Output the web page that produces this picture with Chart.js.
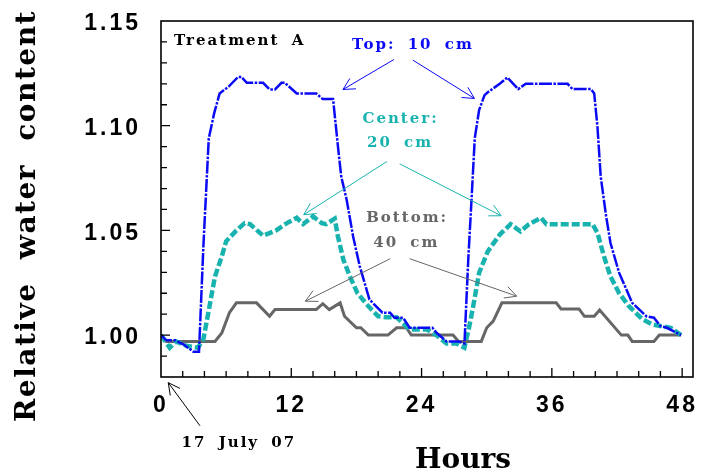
<!DOCTYPE html>
<html lang="en">
<head>
<meta charset="UTF-8">
<title>Relative water content - Treatment A</title>
<script src="https://cdn.jsdelivr.net/npm/chart.js"></script>
<style>
  html, body { margin: 0; padding: 0; background: #fff; }
</style>
</head>
<body>
<canvas id="waterChart" width="701" height="475"></canvas>
<script>
// Hours since the start of the run (17 July 07) and relative water content per depth
const topHours = [0, 0.5, 1.3, 2.1, 3.0, 3.5, 3.9, 4.4, 4.9, 5.4, 6.3, 7.1, 7.4, 7.9, 9.4, 10.0, 10.5, 11.1, 11.4, 12.5,
  14.3, 14.9, 15.85, 16.3, 16.6, 17.1, 17.7, 18.3, 19.2, 20.4, 21.1, 21.5, 22.3, 22.9, 25.0, 25.4, 26.3, 27.4, 27.95, 28.3,
  28.6, 28.9, 29.3, 29.8, 30.1, 31.2, 31.9, 32.9, 33.6, 37.45, 37.9, 39.6, 39.9, 40.2, 40.5, 41.0, 41.4, 42.2, 43.4, 44.7,
  45.4, 46.0, 46.6, 47.9];
const topValues = [1.000, 0.9975, 0.9975, 0.9955, 0.992, 0.992, 1.042, 1.094, 1.106, 1.1154, 1.119, 1.1233, 1.1233, 1.1205, 1.1205, 1.1173, 1.1173, 1.1205, 1.1205, 1.1154,
  1.1154, 1.1127, 1.1127, 1.090, 1.0757, 1.0646, 1.047, 1.033, 1.017, 1.0107, 1.0107, 1.0083, 1.0083, 1.0035, 1.0035, 1.001, 0.997, 0.997, 0.996, 1.036,
  1.0646, 1.094, 1.1075, 1.1146, 1.116, 1.120, 1.123, 1.1175, 1.120, 1.120, 1.1175, 1.1175, 1.1154, 1.0995, 1.0757, 1.0567, 1.044, 1.0297, 1.0154, 1.009,
  1.0083, 1.0043, 1.0035, 1.000];

const centerHours = [0, 0.8, 1.4, 2.4, 3.4, 3.9, 4.3, 4.97, 5.6, 6.0, 6.95, 7.7, 8.2, 9.4, 10.6, 11.6, 12.5, 13.1, 14.0, 14.8,
  15.2, 16.0, 16.3, 16.8, 17.4, 18.1, 19.1, 20.0, 20.75, 21.7, 22.9, 24.5, 25.35, 26.3, 27.2, 27.95, 28.4, 28.7, 29.3, 30.1,
  31.2, 32.2, 33.1, 33.9, 35.0, 35.5, 39.75, 40.2, 40.8, 41.4, 42.2, 43.1, 44.35, 45.3, 46.95, 47.9];
const centerValues = [1.000, 0.994, 0.997, 0.9948, 0.994, 0.998, 1.009, 1.028, 1.0376, 1.0448, 1.050, 1.0535, 1.053, 1.0475, 1.050, 1.0535, 1.056, 1.053, 1.0567, 1.0535,
  1.053, 1.0556, 1.047, 1.036, 1.028, 1.020, 1.0138, 1.009, 1.0085, 1.0085, 1.0027, 1.0027, 1.000, 0.996, 0.996, 0.994, 1.0043, 1.0122, 1.0297, 1.040,
  1.048, 1.053, 1.0495, 1.053, 1.056, 1.053, 1.053, 1.0488, 1.0376, 1.028, 1.020, 1.0138, 1.0075, 1.005, 1.0035, 1.000];

const bottomHours = [0, 0.5, 4.97, 5.6, 6.3, 6.95, 8.8, 10.0, 10.5, 14.3, 14.9, 15.5, 16.5, 16.9, 18.0, 18.4, 19.1, 20.9, 21.7, 22.6,
  23.05, 26.9, 27.4, 29.5, 30.0, 30.6, 31.4, 36.4, 36.85, 38.5, 39.0, 39.9, 40.4, 42.4, 43.0, 43.4, 45.4, 45.9, 47.9];
const bottomValues = [1.000, 0.997, 0.997, 1.001, 1.0107, 1.0154, 1.0154, 1.009, 1.0122, 1.0122, 1.015, 1.0122, 1.0154, 1.009, 1.0035, 1.0035, 1.000, 1.000, 1.0035, 1.0035,
  1.000, 1.000, 0.997, 0.997, 1.0035, 1.0067, 1.0154, 1.0154, 1.0125, 1.0125, 1.009, 1.009, 1.012, 1.000, 1.000, 0.997, 0.997, 1.000, 1.000];

const xTickLabels = [0, 12, 24, 36, 48];
const yTickLabels = [1.00, 1.05, 1.10, 1.15];

const blue = '#0a0af5';
const teal = '#19b3af';
const grey = '#666666';

// text and arrows placed in data units
const notes = [
  { text: 'Treatment A', at: [1.2, 1.1384], color: '#000', align: 'left' },
  { text: 'Top: 10 cm', at: [23.2, 1.1368], color: blue },
  { text: 'Center:', at: [22.07, 1.1014], color: teal },
  { text: '20 cm', at: [22.02, 1.090], color: teal },
  { text: 'Bottom:', at: [22.67, 1.054], color: grey },
  { text: '40 cm', at: [22.59, 1.0421], color: grey },
  { text: '17 July 07', at: [7.17, 0.9464], color: '#000' }
];
const arrows = [
  { from: [21.45, 1.1316], to: [16.76, 1.1173], color: blue },
  { from: [23.2, 1.1313], to: [28.87, 1.113], color: blue },
  { from: [20.81, 1.0829], to: [13.15, 1.0575], color: teal },
  { from: [21.98, 1.0818], to: [31.33, 1.057], color: teal },
  { from: [21.12, 1.0365], to: [13.3, 1.0162], color: grey },
  { from: [22.9, 1.0365], to: [32.76, 1.0186], color: grey },
  { from: [3.59, 0.9567], to: [0.67, 0.9773], color: '#000' }
];

function points(hours, values) {
  return hours.map((h, i) => ({ x: h, y: values[i] }));
}

// spaced-out tick labels, reset before the lines are drawn
const tickSpacing = {
  id: 'tickSpacing',
  beforeDraw(chart) { chart.ctx.letterSpacing = '3px'; },
  beforeDatasetsDraw(chart) { chart.ctx.letterSpacing = '0px'; }
};

// box around the plot plus inward tick marks
const frameAndTicks = {
  id: 'frameAndTicks',
  afterDatasetsDraw(chart) {
    const { ctx, chartArea: a, scales: { x, y } } = chart;
    ctx.save();
    ctx.strokeStyle = '#000';
    ctx.lineWidth = 1.3;
    ctx.beginPath();
    for (let h = 2; h <= 48; h += 2) {
      const px = x.getPixelForValue(h);
      const len = h % 12 === 0 ? 9 : 6;
      ctx.moveTo(px, a.bottom);
      ctx.lineTo(px, a.bottom - len);
    }
    for (let k = 99; k < 115; k++) {
      const py = y.getPixelForValue(k / 100);
      const len = k % 5 === 0 ? 9 : 6;
      ctx.moveTo(a.left, py);
      ctx.lineTo(a.left + len, py);
    }
    ctx.stroke();
    ctx.lineWidth = 1.6;
    ctx.strokeRect(a.left, a.top, a.right - a.left, a.bottom - a.top);
    ctx.restore();
  }
};

function drawArrow(ctx, x1, y1, x2, y2) {
  const ang = Math.atan2(y1 - y2, x1 - x2);
  const head = 13, spread = 0.48;
  ctx.beginPath();
  ctx.moveTo(x1, y1);
  ctx.lineTo(x2, y2);
  ctx.moveTo(x2 + head * Math.cos(ang - spread), y2 + head * Math.sin(ang - spread));
  ctx.lineTo(x2, y2);
  ctx.lineTo(x2 + head * Math.cos(ang + spread), y2 + head * Math.sin(ang + spread));
  ctx.stroke();
}

const annotations = {
  id: 'annotations',
  afterDraw(chart) {
    const { ctx, scales: { x, y } } = chart;
    ctx.save();
    ctx.lineWidth = 1;
    arrows.forEach(a => {
      ctx.strokeStyle = a.color;
      drawArrow(ctx, x.getPixelForValue(a.from[0]), y.getPixelForValue(a.from[1]),
        x.getPixelForValue(a.to[0]), y.getPixelForValue(a.to[1]));
    });
    ctx.font = 'bold 15px "DejaVu Serif"';
    ctx.letterSpacing = '2px';
    ctx.wordSpacing = '5px';
    ctx.textBaseline = 'alphabetic';
    notes.forEach(n => {
      ctx.fillStyle = n.color;
      ctx.textAlign = n.align || 'center';
      ctx.fillText(n.text, x.getPixelForValue(n.at[0]), y.getPixelForValue(n.at[1]));
    });

    // axis titles
    ctx.fillStyle = '#000';
    ctx.textAlign = 'center';
    ctx.font = 'bold 28px "DejaVu Serif"';
    ctx.letterSpacing = '1.5px';
    ctx.wordSpacing = '12px';
    ctx.save();
    ctx.translate(35, 216);
    ctx.rotate(-Math.PI / 2);
    ctx.fillText('Relative water content', 0, 0);
    ctx.restore();
    ctx.letterSpacing = '0px';
    ctx.wordSpacing = '0px';
    ctx.fillText('Hours', 463, 468);
    ctx.restore();
  }
};

const tickFont = { family: '"Liberation Sans", Arial, sans-serif', weight: 'bold', size: 23 };

new Chart(document.getElementById('waterChart').getContext('2d'), {
  type: 'line',
  data: {
    datasets: [
      {
        label: 'Top: 10 cm',
        data: points(topHours, topValues),
        borderColor: blue,
        borderWidth: 2.5,
        borderDash: [13, 1.5, 2.5, 1.5]
      },
      {
        label: 'Center: 20 cm',
        data: points(centerHours, centerValues),
        borderColor: teal,
        borderWidth: 4.5,
        borderDash: [8, 3]
      },
      {
        label: 'Bottom: 40 cm',
        data: points(bottomHours, bottomValues),
        borderColor: grey,
        borderWidth: 3
      }
    ]
  },
  options: {
    responsive: false,
    animation: false,
    events: [],
    elements: { point: { radius: 0 }, line: { tension: 0, fill: false } },
    layout: { padding: { top: 21, right: 8, left: 0, bottom: 0 } },
    plugins: { legend: { display: false }, tooltip: { enabled: false } },
    scales: {
      x: {
        type: 'linear',
        min: 0,
        max: 49,
        grid: { display: false, drawTicks: false },
        border: { display: false },
        afterBuildTicks: s => { s.ticks = xTickLabels.map(v => ({ value: v })); },
        afterFit: s => { s.height = 98; s.paddingLeft = 0; s.paddingRight = 0; },
        ticks: {
          font: tickFont, color: '#000', padding: 15,
          maxRotation: 0, autoSkip: false,
          callback: v => String(v)
        }
      },
      y: {
        min: 0.98,
        max: 1.15,
        grid: { display: false, drawTicks: false },
        border: { display: false },
        afterBuildTicks: s => { s.ticks = yTickLabels.map(v => ({ value: v })); },
        afterFit: s => { s.width = 161; s.paddingTop = 0; s.paddingBottom = 0; },
        ticks: {
          font: tickFont, color: '#000', padding: 20, labelOffset: 3,
          callback: v => v.toFixed(2)
        }
      }
    }
  },
  plugins: [tickSpacing, frameAndTicks, annotations]
});
</script>
</body>
</html>
